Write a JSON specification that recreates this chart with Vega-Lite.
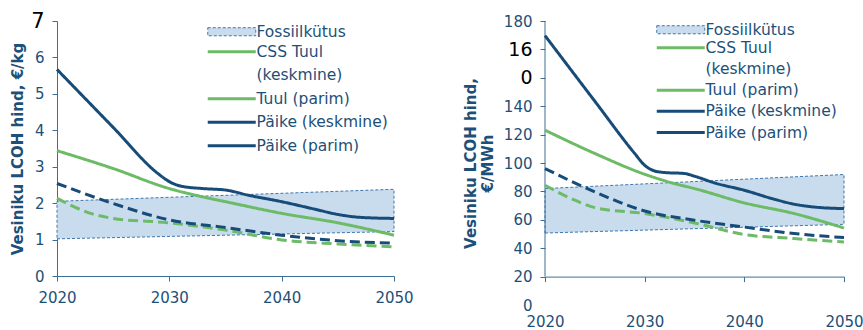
{
  "$schema": "https://vega.github.io/schema/vega-lite/v6.json",
  "bounds": "flush",
  "spacing": 151,
  "padding": {"left": 10, "top": 10, "right": 0, "bottom": 0},
  "background": "white",
  "config": {
    "view": {"stroke": null},
    "axis": {"grid": false, "domainColor": "#3d6f94", "tickColor": "#3d6f94", "labelColor": "#1d5078", "labelFont": "DejaVu Sans", "labelFontSize": 14.5, "titleFont": "DejaVu Sans", "titleColor": "#1d5078", "tickSize": 5, "labelOverlap": false, "labelFlush": false, "labelBound": false},
    "legend": {"labelFont": "DejaVu Sans", "labelFontSize": 15.5, "labelColor": "#1d5078", "padding": 0, "titlePadding": 0}
  },
  "datasets": {
    "lines": [
      {"panel": "kg", "series": "CSS Tuul (keskmine)", "kind": "solid", "year": 2020, "value": 3.44},
      {"panel": "kg", "series": "CSS Tuul (keskmine)", "kind": "solid", "year": 2025, "value": 2.95},
      {"panel": "kg", "series": "CSS Tuul (keskmine)", "kind": "solid", "year": 2030, "value": 2.40},
      {"panel": "kg", "series": "CSS Tuul (keskmine)", "kind": "solid", "year": 2033, "value": 2.17},
      {"panel": "kg", "series": "CSS Tuul (keskmine)", "kind": "solid", "year": 2035, "value": 2.04},
      {"panel": "kg", "series": "CSS Tuul (keskmine)", "kind": "solid", "year": 2040, "value": 1.72},
      {"panel": "kg", "series": "CSS Tuul (keskmine)", "kind": "solid", "year": 2045, "value": 1.46},
      {"panel": "kg", "series": "CSS Tuul (keskmine)", "kind": "solid", "year": 2050, "value": 1.12},
      {"panel": "kg", "series": "Tuul (parim)", "kind": "dashed", "year": 2020, "value": 2.13},
      {"panel": "kg", "series": "Tuul (parim)", "kind": "dashed", "year": 2023, "value": 1.72},
      {"panel": "kg", "series": "Tuul (parim)", "kind": "dashed", "year": 2025, "value": 1.58},
      {"panel": "kg", "series": "Tuul (parim)", "kind": "dashed", "year": 2030, "value": 1.46},
      {"panel": "kg", "series": "Tuul (parim)", "kind": "dashed", "year": 2035, "value": 1.26},
      {"panel": "kg", "series": "Tuul (parim)", "kind": "dashed", "year": 2040, "value": 0.99},
      {"panel": "kg", "series": "Tuul (parim)", "kind": "dashed", "year": 2045, "value": 0.88},
      {"panel": "kg", "series": "Tuul (parim)", "kind": "dashed", "year": 2050, "value": 0.80},
      {"panel": "kg", "series": "Päike (keskmine)", "kind": "solid", "year": 2020, "value": 5.67},
      {"panel": "kg", "series": "Päike (keskmine)", "kind": "solid", "year": 2025, "value": 4.08},
      {"panel": "kg", "series": "Päike (keskmine)", "kind": "solid", "year": 2029, "value": 2.81},
      {"panel": "kg", "series": "Päike (keskmine)", "kind": "solid", "year": 2030, "value": 2.59},
      {"panel": "kg", "series": "Päike (keskmine)", "kind": "solid", "year": 2031, "value": 2.47},
      {"panel": "kg", "series": "Päike (keskmine)", "kind": "solid", "year": 2033, "value": 2.40},
      {"panel": "kg", "series": "Päike (keskmine)", "kind": "solid", "year": 2035, "value": 2.36},
      {"panel": "kg", "series": "Päike (keskmine)", "kind": "solid", "year": 2037, "value": 2.22},
      {"panel": "kg", "series": "Päike (keskmine)", "kind": "solid", "year": 2040, "value": 2.04},
      {"panel": "kg", "series": "Päike (keskmine)", "kind": "solid", "year": 2043, "value": 1.83},
      {"panel": "kg", "series": "Päike (keskmine)", "kind": "solid", "year": 2045, "value": 1.69},
      {"panel": "kg", "series": "Päike (keskmine)", "kind": "solid", "year": 2047, "value": 1.61},
      {"panel": "kg", "series": "Päike (keskmine)", "kind": "solid", "year": 2050, "value": 1.58},
      {"panel": "kg", "series": "Päike (parim)", "kind": "dashed", "year": 2020, "value": 2.54},
      {"panel": "kg", "series": "Päike (parim)", "kind": "dashed", "year": 2025, "value": 1.99},
      {"panel": "kg", "series": "Päike (parim)", "kind": "dashed", "year": 2030, "value": 1.54},
      {"panel": "kg", "series": "Päike (parim)", "kind": "dashed", "year": 2035, "value": 1.33},
      {"panel": "kg", "series": "Päike (parim)", "kind": "dashed", "year": 2040, "value": 1.12},
      {"panel": "kg", "series": "Päike (parim)", "kind": "dashed", "year": 2045, "value": 0.97},
      {"panel": "kg", "series": "Päike (parim)", "kind": "dashed", "year": 2050, "value": 0.90},
      {"panel": "mwh", "series": "CSS Tuul (keskmine)", "kind": "solid", "year": 2020, "value": 123.1},
      {"panel": "mwh", "series": "CSS Tuul (keskmine)", "kind": "solid", "year": 2025, "value": 106.7},
      {"panel": "mwh", "series": "CSS Tuul (keskmine)", "kind": "solid", "year": 2030, "value": 92.1},
      {"panel": "mwh", "series": "CSS Tuul (keskmine)", "kind": "solid", "year": 2033, "value": 85.5},
      {"panel": "mwh", "series": "CSS Tuul (keskmine)", "kind": "solid", "year": 2035, "value": 82.0},
      {"panel": "mwh", "series": "CSS Tuul (keskmine)", "kind": "solid", "year": 2040, "value": 71.9},
      {"panel": "mwh", "series": "CSS Tuul (keskmine)", "kind": "solid", "year": 2045, "value": 64.4},
      {"panel": "mwh", "series": "CSS Tuul (keskmine)", "kind": "solid", "year": 2050, "value": 54.2},
      {"panel": "mwh", "series": "Tuul (parim)", "kind": "dashed", "year": 2020, "value": 84.3},
      {"panel": "mwh", "series": "Tuul (parim)", "kind": "dashed", "year": 2023, "value": 73.8},
      {"panel": "mwh", "series": "Tuul (parim)", "kind": "dashed", "year": 2025, "value": 68.6},
      {"panel": "mwh", "series": "Tuul (parim)", "kind": "dashed", "year": 2030, "value": 64.4},
      {"panel": "mwh", "series": "Tuul (parim)", "kind": "dashed", "year": 2035, "value": 57.8},
      {"panel": "mwh", "series": "Tuul (parim)", "kind": "dashed", "year": 2040, "value": 49.6},
      {"panel": "mwh", "series": "Tuul (parim)", "kind": "dashed", "year": 2045, "value": 46.8},
      {"panel": "mwh", "series": "Tuul (parim)", "kind": "dashed", "year": 2050, "value": 44.4},
      {"panel": "mwh", "series": "Päike (keskmine)", "kind": "solid", "year": 2020, "value": 189.7},
      {"panel": "mwh", "series": "Päike (keskmine)", "kind": "solid", "year": 2025, "value": 143.5},
      {"panel": "mwh", "series": "Päike (keskmine)", "kind": "solid", "year": 2029, "value": 106.7},
      {"panel": "mwh", "series": "Päike (keskmine)", "kind": "solid", "year": 2030, "value": 98.4},
      {"panel": "mwh", "series": "Päike (keskmine)", "kind": "solid", "year": 2031, "value": 94.4},
      {"panel": "mwh", "series": "Päike (keskmine)", "kind": "solid", "year": 2032, "value": 93.3},
      {"panel": "mwh", "series": "Päike (keskmine)", "kind": "solid", "year": 2034, "value": 92.6},
      {"panel": "mwh", "series": "Päike (keskmine)", "kind": "solid", "year": 2035, "value": 90.7},
      {"panel": "mwh", "series": "Päike (keskmine)", "kind": "solid", "year": 2037, "value": 86.0},
      {"panel": "mwh", "series": "Päike (keskmine)", "kind": "solid", "year": 2040, "value": 80.8},
      {"panel": "mwh", "series": "Päike (keskmine)", "kind": "solid", "year": 2043, "value": 74.5},
      {"panel": "mwh", "series": "Päike (keskmine)", "kind": "solid", "year": 2045, "value": 71.0},
      {"panel": "mwh", "series": "Päike (keskmine)", "kind": "solid", "year": 2047, "value": 69.0},
      {"panel": "mwh", "series": "Päike (keskmine)", "kind": "solid", "year": 2050, "value": 67.9},
      {"panel": "mwh", "series": "Päike (parim)", "kind": "dashed", "year": 2020, "value": 96.1},
      {"panel": "mwh", "series": "Päike (parim)", "kind": "dashed", "year": 2025, "value": 79.6},
      {"panel": "mwh", "series": "Päike (parim)", "kind": "dashed", "year": 2030, "value": 66.2},
      {"panel": "mwh", "series": "Päike (parim)", "kind": "dashed", "year": 2035, "value": 59.7},
      {"panel": "mwh", "series": "Päike (parim)", "kind": "dashed", "year": 2040, "value": 54.9},
      {"panel": "mwh", "series": "Päike (parim)", "kind": "dashed", "year": 2045, "value": 50.3},
      {"panel": "mwh", "series": "Päike (parim)", "kind": "dashed", "year": 2050, "value": 47.5}
    ],
    "band": [
      {"panel": "kg", "name": "Fossiilkütus", "year": 2020, "value": 1.02, "value2": 2.05},
      {"panel": "kg", "name": "Fossiilkütus", "year": 2050, "value": 1.22, "value2": 2.38},
      {"panel": "mwh", "name": "Fossiilkütus", "year": 2020, "value": 50.7, "value2": 82.0},
      {"panel": "mwh", "name": "Fossiilkütus", "year": 2050, "value": 56.8, "value2": 91.9}
    ]
  },
  "hconcat": [
    {
      "width": 337,
      "height": 255,
      "encoding": {
        "x": {"field": "year", "type": "quantitative", "scale": {"domain": [2020, 2050], "nice": false, "zero": false},
          "axis": {"values": [2020, 2030, 2040, 2050], "format": "d", "title": null, "labelPadding": 9, "labelFontSize": 15, "labelOverlap": false, "labelFlush": false}},
        "y": {"field": "value", "type": "quantitative", "scale": {"domain": [0, 7], "nice": false},
          "axis": {"values": [0, 1, 2, 3, 4, 5, 6, 7], "tickCount": 8, "labelOverlap": false, "labelPadding": 8,
            "title": "Vesiniku LCOH hind, €/kg", "titleFontSize": 15, "titleFontWeight": "bold", "titlePadding": 5,
            "labelColor": {"condition": {"test": "datum.value == 7", "value": "#000000"}, "value": "#1d5078"},
            "labelFontSize": {"condition": {"test": "datum.value == 7", "value": 21}, "value": 15}}}
      },
      "layer": [
        {
          "data": {"name": "band"},
          "transform": [{"filter": "datum.panel == 'kg'"}],
          "mark": {"type": "area", "stroke": "#3f77ab", "strokeDash": [3, 2], "strokeWidth": 1, "opacity": 1},
          "encoding": {
            "y2": {"field": "value2"},
            "fill": {"field": "name", "type": "nominal", "scale": {"domain": ["Fossiilkütus"], "range": ["#c9dcee"]},
              "legend": {"title": null, "orient": "none", "legendX": 149, "legendY": 3, "symbolType": "M-1,-0.67H7V0.67H-1Z", "symbolSize": 144, "symbolStrokeColor": "#3f77ab", "symbolDash": [3, 2], "symbolStrokeWidth": 1, "labelOffset": 35}}
          }
        },
        {
          "data": {"name": "lines"},
          "transform": [{"filter": "datum.panel == 'kg'"}],
          "mark": {"type": "line", "interpolate": "monotone", "strokeWidth": 3},
          "encoding": {
            "color": {"field": "series", "type": "nominal",
              "scale": {"domain": ["CSS Tuul (keskmine)", "(keskmine)", "Tuul (parim)", "Päike (keskmine)", "Päike (parim)"], "range": ["#6dbb66", "transparent", "#6dbb66", "#174b78", "#174b78"]},
              "legend": {"title": null, "orient": "none", "legendX": 149, "legendY": 23, "symbolType": "M-1,0H7", "symbolSize": 144, "symbolStrokeWidth": 3, "labelOffset": 35, "rowPadding": 6.5,
                "labelExpr": "datum.label == 'CSS Tuul (keskmine)' ? 'CSS Tuul' : datum.label"}},
            "strokeDash": {"field": "kind", "type": "nominal", "scale": {"domain": ["solid", "dashed"], "range": [[1, 0], [10, 5]]}, "legend": null}
          }
        }
      ]
    },
    {
      "width": 299,
      "height": 284,
      "encoding": {
        "x": {"field": "year", "type": "quantitative", "scale": {"domain": [2020, 2050], "nice": false, "zero": false},
          "axis": {"values": [2020, 2030, 2040, 2050], "format": "d", "title": null, "offset": -28.4, "labelPadding": 33, "labelFontSize": 15, "labelOverlap": false, "labelFlush": false}},
        "y": {"field": "value", "type": "quantitative", "scale": {"domain": [0, 200], "nice": false},
          "axis": {"values": [0, 20, 40, 60, 80, 100, 120, 140, 160, 180, 200], "tickCount": 11, "domain": false, "labelOverlap": false, "labelPadding": 8,
            "labelExpr": "datum.value == 200 ? '180' : datum.value == 180 ? '16' : datum.value == 160 ? '0' : datum.label",
            "title": ["Vesiniku LCOH hind,", "€/MWh"], "titleFontSize": 15, "titleFontWeight": "bold", "titlePadding": 8,
            "tickOpacity": {"condition": {"test": "datum.value == 0", "value": 0}, "value": 1},
            "labelColor": {"condition": {"test": "datum.value == 180 || datum.value == 160", "value": "#000000"}, "value": "#1d5078"},
            "labelFontSize": {"condition": {"test": "datum.value == 180 || datum.value == 160", "value": 19}, "value": 15}}}
      },
      "layer": [
        {
          "data": {"name": "band"},
          "transform": [{"filter": "datum.panel == 'mwh'"}],
          "mark": {"type": "area", "stroke": "#3f77ab", "strokeDash": [3, 2], "strokeWidth": 1, "opacity": 1},
          "encoding": {
            "y2": {"field": "value2"},
            "fill": {"field": "name", "type": "nominal", "scale": {"domain": ["Fossiilkütus"], "range": ["#c9dcee"]},
              "legend": {"title": null, "orient": "none", "legendX": 110, "legendY": 1, "symbolType": "M-1,-0.67H7V0.67H-1Z", "symbolSize": 144, "symbolStrokeColor": "#3f77ab", "symbolDash": [3, 2], "symbolStrokeWidth": 1, "labelOffset": 35}}
          }
        },
        {
          "data": {"values": [{"year": 2020, "value": 20, "value2": 200}]},
          "mark": {"type": "rule", "color": "#3d6f94", "strokeWidth": 1},
          "encoding": {"y2": {"field": "value2"}}
        },
        {
          "data": {"name": "lines"},
          "transform": [{"filter": "datum.panel == 'mwh'"}],
          "mark": {"type": "line", "interpolate": "monotone", "strokeWidth": 3},
          "encoding": {
            "color": {"field": "series", "type": "nominal",
              "scale": {"domain": ["CSS Tuul (keskmine)", "(keskmine)", "Tuul (parim)", "Päike (keskmine)", "Päike (parim)"], "range": ["#6dbb66", "transparent", "#6dbb66", "#174b78", "#174b78"]},
              "legend": {"title": null, "orient": "none", "legendX": 110, "legendY": 19, "symbolType": "M-1,0H7", "symbolSize": 144, "symbolStrokeWidth": 3, "labelOffset": 35, "rowPadding": 4.2,
                "labelExpr": "datum.label == 'CSS Tuul (keskmine)' ? 'CSS Tuul' : datum.label"}},
            "strokeDash": {"field": "kind", "type": "nominal", "scale": {"domain": ["solid", "dashed"], "range": [[1, 0], [10, 5]]}, "legend": null}
          }
        }
      ]
    }
  ],
  "resolve": {"scale": {"color": "independent", "fill": "independent", "strokeDash": "independent", "x": "independent", "y": "independent"}}
}
